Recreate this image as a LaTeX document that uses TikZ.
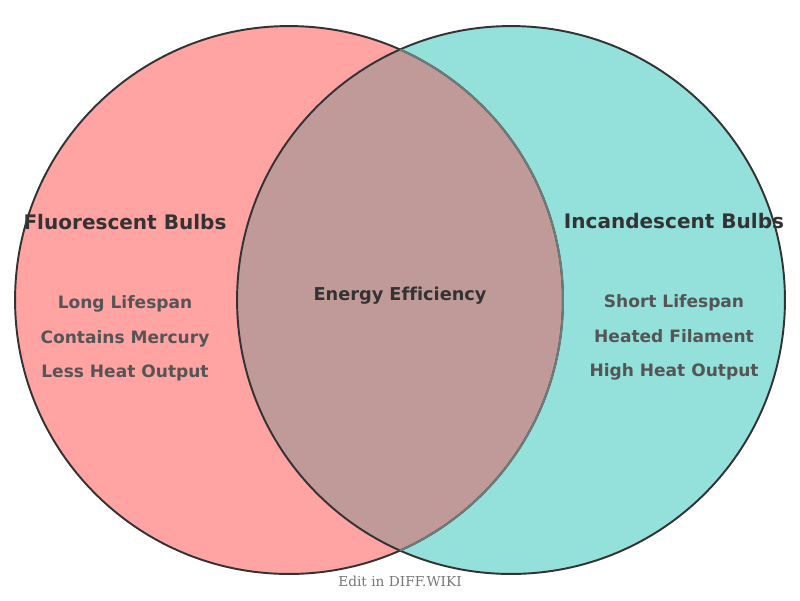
\documentclass[tikz,border=0pt]{standalone}
\usepackage{fontspec}
\setmainfont{DejaVu Sans}[Ligatures=NoCommon]
\newfontfamily\credfont{DejaVu Serif}[Ligatures=NoCommon]

\definecolor{fluorfill}{HTML}{FFA3A3}
\definecolor{incandfill}{HTML}{94E0DB}
\definecolor{overlapfill}{HTML}{C09A98}
\definecolor{rimdark}{HTML}{333333}
\definecolor{riminner}{HTML}{6E7B79}
\definecolor{namedark}{HTML}{333333}
\definecolor{itemgray}{HTML}{555555}
\definecolor{creditgray}{HTML}{777777}

\tikzstyle{setcircle}=[circle,minimum size=10.96cm,inner sep=0pt]
\tikzstyle{rim}=[draw=rimdark,line width=1.1pt]
\tikzstyle{setname}=[font=\bfseries\fontsize{11.4}{13}\selectfont,text=namedark]
\tikzstyle{item}=[font=\bfseries\fontsize{9.7}{11}\selectfont,text=itemgray,text depth=0.24em]
\tikzstyle{credit}=[font=\credfont\fontsize{7.8}{9}\selectfont,text=creditgray]
\newcommand{\setrad}{5.48cm}

\begin{document}
\begin{tikzpicture}[x=0.02cm, y=-0.02cm]
    \useasboundingbox (0,0) rectangle (800,600);
    % First we draw the two sets
    \node[setcircle,fill=fluorfill] (fluor) at (289,300) {};
    \node[setcircle,fill=incandfill] (incand) at (511,300) {};
    % Shared part of both sets
    \begin{scope}
        \clip (fluor.center) circle[radius=\setrad];
        \fill[overlapfill] (incand.center) circle[radius=\setrad];
    \end{scope}
    % Outlines, the one under the right set is lighter
    \path[rim] (fluor.center) circle[radius=\setrad];
    \path[rim] (incand.center) circle[radius=\setrad];
    \begin{scope}
        \clip (incand.center) circle[radius=\setrad];
        \path[rim,draw=riminner] (fluor.center) circle[radius=\setrad];
    \end{scope}

    % Set names and items
    \node[setname] (fluorname) at (125,222) {Fluorescent Bulbs};
    \node[setname] (incandname) at (674,221) {Incandescent Bulbs};
    \foreach \pos/\name/\txt in {{(125,304)/fa/Long Lifespan}, {(125,339)/fb/Contains Mercury},
        {(125,373)/fc/Less Heat Output}, {(674,303)/ia/Short Lifespan},
        {(674,338)/ib/Heated Filament}, {(674,372)/ic/High Heat Output}}
        \node[item] (\name) at \pos {\txt};
    \node[setname,font=\bfseries\fontsize{10.1}{12}\selectfont] (shared) at (400,296) {Energy Efficiency};

    \node[credit] (edit) at (400,581) {Edit in DIFF.WIKI};
\end{tikzpicture}
\end{document}
